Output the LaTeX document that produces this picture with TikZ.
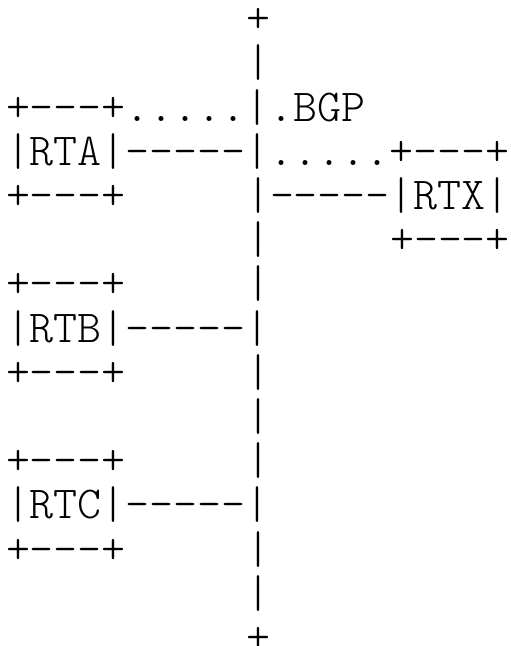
\documentclass[tikz,border=0pt]{standalone}
\usepackage{fontspec}
\newfontfamily\asciifont{lmmonolt10-regular.otf}
\begin{document}
\begin{tikzpicture}[x=24pt,y=-44.2pt,
  asc/.style={anchor=base west,inner sep=0pt,outer sep=0pt,
    font=\asciifont\fontsize{45.7}{50}\selectfont}]
\useasboundingbox (-0.25,-0.74) rectangle (21,13.875);
\node[asc] (r0)  at (10,0)  {+};
\node[asc] (r1)  at (10,1)  {|};
\node[asc] (r2)  at (0,2)   {+---+.....|.BGP};
\node[asc] (r3)  at (0,3)   {|RTA|-----|.....+---+};
\node[asc] (r4a) at (0,4)   {+---+};
\node[asc] (r4b) at (10,4)  {|-----|RTX|};
\node[asc] (r5a) at (10,5)  {|};
\node[asc] (r5b) at (16,5)  {+---+};
\node[asc] (r6a) at (0,6)   {+---+};
\node[asc] (r6b) at (10,6)  {|};
\node[asc] (r7)  at (0,7)   {|RTB|-----|};
\node[asc] (r8a) at (0,8)   {+---+};
\node[asc] (r8b) at (10,8)  {|};
\node[asc] (r9)  at (10,9)  {|};
\node[asc] (r10a) at (0,10) {+---+};
\node[asc] (r10b) at (10,10) {|};
\node[asc] (r11) at (0,11)  {|RTC|-----|};
\node[asc] (r12a) at (0,12) {+---+};
\node[asc] (r12b) at (10,12) {|};
\node[asc] (r13) at (10,13) {|};
\node[asc] (r14) at (10,14) {+};
\end{tikzpicture}
\end{document}
